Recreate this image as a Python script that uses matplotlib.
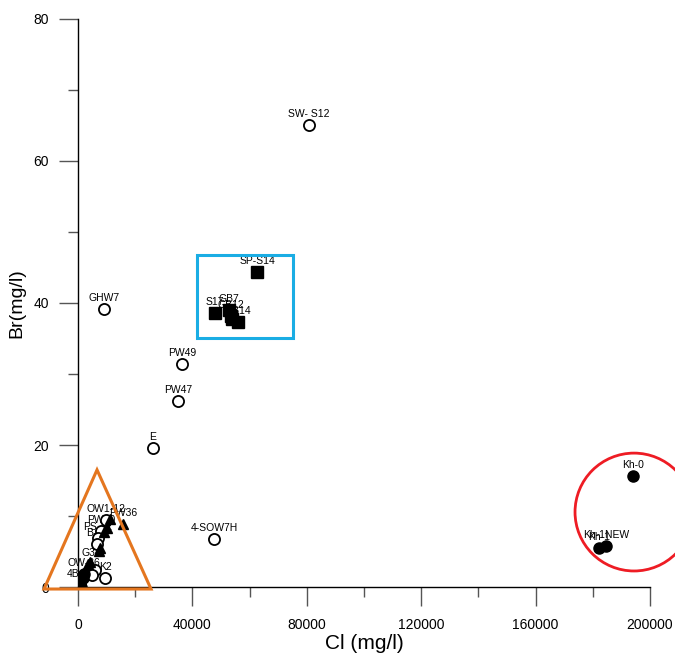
import matplotlib
matplotlib.use("Agg")
import matplotlib.pyplot as plt
from matplotlib.patches import Rectangle, Ellipse, Polygon

plt.rcParams['font.family'] = ['Liberation Sans', 'DejaVu Sans']

# open circles
oc_names = ["SW- S12", "GHW7", "PW49", "PW47", "E", "4-SOW7H",
            "OW1-12", "PW10", "PS-12", "B-12", "K2", "", "", ""]
oc_cl = [80769, 9091, 36364, 34965, 26224, 47552,
         9790, 8042, 6993, 6643, 9441, 5944, 4895, 699]
oc_br = [65.1, 39.2, 31.4, 26.2, 19.6, 6.8,
         9.4, 7.9, 6.9, 6.1, 1.3, 2.4, 1.7, 0.3]

# filled squares
sq_names = ["SP-S14", "S17", "GB7", "GB12", "", "GB14"]
sq_cl = [62587, 47902, 52797, 53497, 53846, 55944]
sq_br = [44.4, 38.6, 39.0, 38.2, 37.7, 37.3]

# filled triangles
tr_names = ["PW36", "", "", "", "", "", "", "G3"]
tr_cl = [15700, 11189, 10140, 9091, 7692, 7343, 4196, 3497]
tr_br = [8.9, 9.6, 8.3, 7.7, 5.5, 5.1, 3.5, 3.2]

# filled circles
fc_names = ["Kh-0", "Kh-1", "Kh-1NEW", "OW-36", "", "4B-H", ""]
fc_cl = [194056, 182168, 184615, 2098, 1748, 350, 1049]
fc_br = [15.6, 5.5, 5.8, 1.8, 1.3, 0.3, 0.0]

fig = plt.figure(figsize=(6.75, 6.54), dpi=100)
ax = fig.add_axes([0.1156, 0.1024, 0.8474, 0.8686])

ax.plot(oc_cl, oc_br, 'o', ms=8, mfc='white', mec='black', mew=1.3, ls='none', zorder=3)
ax.plot(sq_cl, sq_br, 's', ms=8, color='black', ls='none', zorder=3)
ax.plot(tr_cl, tr_br, '^', ms=7, color='black', ls='none', zorder=3)
ax.plot(fc_cl, fc_br, 'o', ms=8, color='black', ls='none', zorder=3)

for names, xs, ys in [(oc_names, oc_cl, oc_br), (sq_names, sq_cl, sq_br),
                      (tr_names, tr_cl, tr_br), (fc_names, fc_cl, fc_br)]:
    for n, x, y in zip(names, xs, ys):
        if n:
            ax.annotate(n, (x, y), xytext=(0, 8), textcoords='offset points',
                        ha='center', va='center', fontsize=7.5, zorder=2,
                        annotation_clip=False)

# highlight shapes
ax.add_patch(Rectangle((41608, 35.07), 75175 - 41608, 46.76 - 35.07, fill=False,
                       ec='#1AADE4', lw=2.2, clip_on=False, zorder=4))
ax.add_patch(Ellipse((194406, 10.56), 41259, 16.6, fill=False, ec='#EE1C24',
                     lw=2, clip_on=False, zorder=4))
ax.add_patch(Polygon([(-11888, -0.28), (6643, 16.5), (25524, -0.28)], closed=True,
                     fill=False, ec='#E4761F', lw=2.2, clip_on=False, zorder=4))

ax.set_xlim(0, 200000)
ax.set_ylim(0, 80)
ax.set_xticks([0, 40000, 80000, 120000, 160000, 200000])
ax.set_xticks([20000, 60000, 100000, 140000, 180000], minor=True)
ax.set_yticks([0, 20, 40, 60, 80])
ax.set_yticks([10, 30, 50, 70], minor=True)
ax.tick_params(which='major', direction='out', length=14, width=1, color='#555555',
               labelsize=10, pad=7)
ax.tick_params(which='minor', direction='out', length=7, width=1, color='#555555')
ax.tick_params(axis='x', which='major', pad=8)

for s in ['top', 'right']:
    ax.spines[s].set_visible(False)
for s in ['left', 'bottom']:
    ax.spines[s].set_linewidth(1)

ax.set_xlabel('Cl (mg/l)', fontsize=15, labelpad=2)
ax.set_ylabel('Br(mg/l)', fontsize=14, labelpad=6)

fig.savefig('out.png', dpi=100)
